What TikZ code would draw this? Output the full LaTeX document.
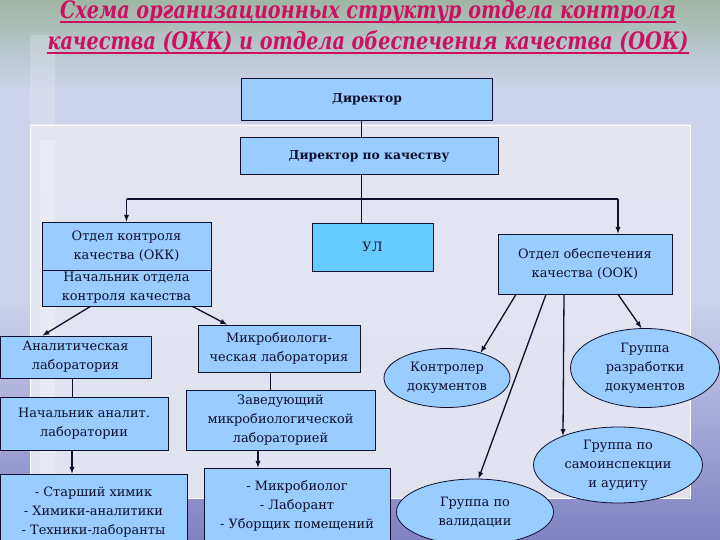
\documentclass[tikz,border=0pt]{standalone}
\usepackage{fontspec}
\setmainfont{DejaVu Serif}
\newfontfamily\cyrserif{DejaVu Serif}
\usetikzlibrary{shapes,arrows,calc,positioning}

\definecolor{boxblue}{HTML}{99CCFF}
\definecolor{ulblue}{HTML}{66CCFF}
\definecolor{edge}{HTML}{10102E}
\definecolor{titlered}{HTML}{CC1162}
\definecolor{bgtop}{HTML}{9FB6A4}
\definecolor{bgmid}{HTML}{CDD3EC}
\definecolor{bgbot}{HTML}{7F81C2}
\definecolor{panel}{HTML}{E4E5F1}

\newcommand{\squeeze}[1]{\scalebox{0.8}[1]{#1}}

\begin{document}
\begin{tikzpicture}[x=1pt,y=-1pt,
	box/.style={rectangle,draw=edge,fill=boxblue,line width=0.8pt,align=center,inner sep=0pt,text=edge,font=\cyrserif\fontsize{12.9}{19}\selectfont},
	oval/.style={ellipse,draw=edge,fill=boxblue,line width=0.8pt,align=center,inner sep=0pt,text=edge,font=\cyrserif\fontsize{12.9}{19}\selectfont},
	boss/.style={font=\cyrserif\fontsize{12.3}{16}\bfseries\selectfont},
	title/.style={inner sep=0pt,anchor=base,text=titlered,font=\cyrserif\fontsize{24}{30}\bfseries\itshape\selectfont},
	arr/.style={->,>=latex,line width=1.3pt,draw=edge},
	conn/.style={line width=0.8pt,draw=edge}]
	\useasboundingbox (0,0) rectangle (720,540);
	% background and panel
	\fill[bgmid] (0,0) rectangle (720,540);
	\shade[top color=bgtop,bottom color=bgmid] (0,0) rectangle (720,90);
	\shade[top color=bgmid,bottom color=bgbot] (0,300) rectangle (720,540);
	\fill[white,opacity=.2] (30,35) rectangle (55,540);
	\shade[top color=panel,bottom color=panel!85!bgmid,draw=white] (30,125) rectangle (690,498);
	\fill[white,opacity=.25] (40,140) rectangle (55,540);

	% title
	\node[title] (title1) at (368,19) {\squeeze{Схема организационных структур отдела контроля}};
	\node[title] (title2) at (368,50) {\squeeze{качества (ОКК) и отдела обеспечения качества (ООК)}};
	\draw[titlered,line width=1.6pt] ([yshift=-3pt]title1.base west) -- ([yshift=-3pt]title1.base east);
	\draw[titlered,line width=1.6pt] ([yshift=-3pt]title2.base west) -- ([yshift=-3pt]title2.base east);

	% top boxes
	\node[box,boss,minimum width=251,minimum height=42] (dir) at (367,99) {Директор};
	\node[box,boss,minimum width=258,minimum height=37] (dirq) at (369,156) {Директор по качеству};
	\coordinate (hub) at (361,199);

	% second row
	\node[box,minimum width=169,minimum height=48] (okk) at (126.5,246) {Отдел контроля\\качества (ОКК)};
	\node[box,minimum width=169,minimum height=36] (okkboss) at (126.5,288) {Начальник отдела\\контроля качества};
	\node[box,fill=ulblue,minimum width=121,minimum height=48] (ul) at (372.5,247) {УЛ};
	\node[box,minimum width=174,minimum height=60] (ook) at (585,264) {Отдел обеспечения\\качества (ООК)};

	% left column
	\node[box,minimum width=151,minimum height=42] (anal) at (75.5,357) {Аналитическая\\лаборатория};
	\node[box,minimum width=168,minimum height=53] (nach) at (84,423.5) {Начальник аналит.\\лаборатории};
	\node[box,minimum width=187,minimum height=76] (chem) at (93.5,512) {- Старший химик\\- Химики-аналитики\\- Техники-лаборанты};

	% middle column
	\node[box,minimum width=162,minimum height=47] (micro) at (279,348.5) {Микробиологи-\\ческая лаборатория};
	\node[box,minimum width=189,minimum height=60] (zav) at (280.5,420) {Заведующий\\микробиологической\\лабораторией};
	\node[box,minimum width=186,minimum height=76] (mic) at (297,506) {- Микробиолог\\- Лаборант\\- Уборщик помещений};

	% groups of OOK
	\node[oval,minimum width=126,minimum height=59] (kontr) at (447,378) {Контролер\\документов};
	\node[oval,minimum width=149,minimum height=79] (razr) at (645,368) {Группа\\разработки\\документов};
	\node[oval,minimum width=169,minimum height=76] (samo) at (618,465) {Группа по\\самоинспекции\\и аудиту};
	\node[oval,minimum width=157,minimum height=66] (valid) at (475,512) {Группа по\\валидации};

	% connectors
	\draw[conn] (dir.south -| hub) -- (dirq.north -| hub);
	\draw[conn] (dirq.south -| hub) -- (ul.north -| hub);
	\draw[arr,-] (okk.north |- hub) -- ([xshift=33]ook.north |- hub);
	\draw[arr] (okk.north |- hub) -- (okk.north);
	\draw[arr] ([xshift=33]ook.north |- hub) -- ([xshift=33]ook.north);

	\draw[arr] ([xshift=-36]okkboss.south) -- ([xshift=-33]anal.north);
	\draw[arr] ([xshift=66]okkboss.south) -- ([xshift=-52]micro.north);
	\draw[conn] ([xshift=-3]anal.south) -- ([xshift=-3]anal.south |- nach.north);
	\draw[arr] ([xshift=-12]nach.south) -- ([xshift=-12]nach.south |- chem.north);
	\draw[conn] ([xshift=-9]micro.south) -- ([xshift=-9]micro.south |- zav.north);
	\draw[arr] ([xshift=-22.5]zav.south) -- ([xshift=-22.5]zav.south |- mic.north);

	\draw[arr] ([xshift=-69]ook.south) -- (kontr.37);
	\draw[arr] ([xshift=-39]ook.south) -- (valid.84);
	\draw[arr] ([xshift=-21]ook.south) -- (samo.152);
	\draw[arr] ([xshift=33]ook.south) -- (razr.95);
\end{tikzpicture}
\end{document}
